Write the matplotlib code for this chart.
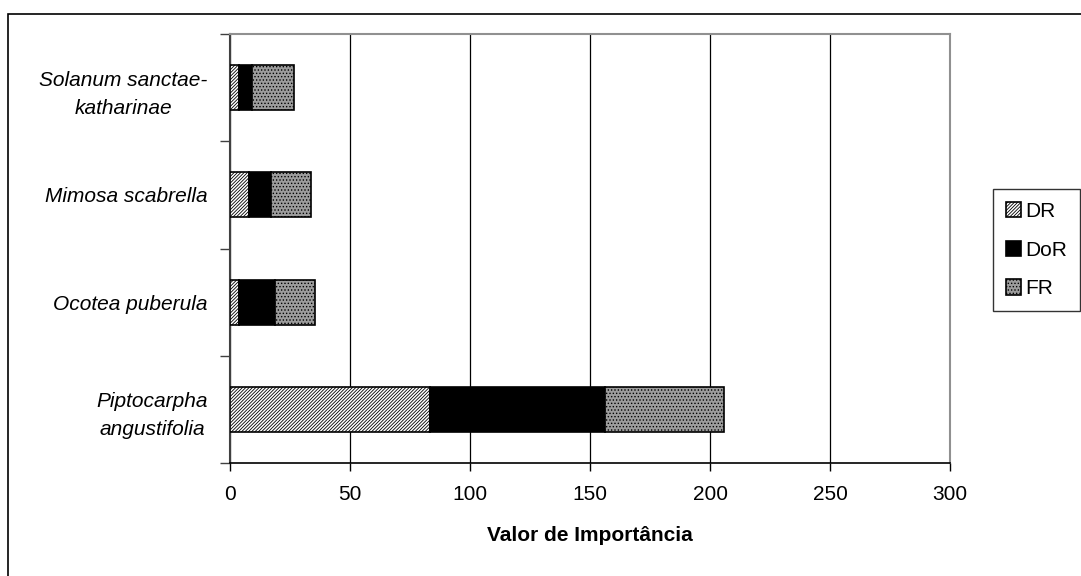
import matplotlib.pyplot as plt
from matplotlib.patches import Rectangle

plt.rcParams['font.family'] = ['Liberation Sans', 'DejaVu Sans']
plt.rcParams['hatch.linewidth'] = 0.6

species = ['Piptocarpha\nangustifolia', 'Ocotea puberula', 'Mimosa scabrella',
           'Solanum sanctae-\nkatharinae']
dr = [83.3, 3.8, 7.9, 3.8]
dor = [72.9, 15.0, 9.1, 5.5]
fr = [49.8, 16.6, 16.6, 17.4]
xticks = [0, 50, 100, 150, 200, 250, 300]

W, H = 1081, 576
fig = plt.figure(figsize=(W / 100, H / 100), dpi=100)
ax = fig.add_axes([230 / W, 1 - 463 / H, 720 / W, 429 / H])

y = range(len(species))
left_dor = [a for a in dr]
left_fr = [a + b for a, b in zip(dr, dor)]
h = 0.42
ax.barh(y, dr, height=h, color='white', edgecolor='black', hatch='//////////',
        linewidth=1.2, label='DR', zorder=3)
ax.barh(y, dor, left=left_dor, height=h, color='black', edgecolor='black',
        linewidth=1.2, label='DoR', zorder=3)
ax.barh(y, fr, left=left_fr, height=h, color='#9c9c9c', edgecolor='black',
        hatch='.....', linewidth=1.2, label='FR', zorder=3)

ax.set_xlim(0, 300)
ax.set_ylim(-0.5, 3.5)
ax.set_xticks(xticks)
ax.set_xticklabels([str(v) for v in xticks], fontsize=15)
ax.set_yticks(list(y))
ax.set_yticklabels(species, fontsize=15, style='italic', multialignment='center',
                   linespacing=1.6)
ax.set_yticks([-0.5, 0.5, 1.5, 2.5, 3.5], minor=True)
ax.tick_params(axis='y', which='major', length=0, pad=16)
ax.tick_params(axis='y', which='minor', length=7, width=1, color='#404040')
ax.tick_params(axis='x', length=6, width=1, pad=10)

ax.grid(axis='x', color='black', linewidth=0.9, zorder=0)
ax.set_axisbelow(True)
ax.spines['top'].set_color('#909090')
ax.spines['right'].set_color('#909090')
ax.spines['top'].set_linewidth(1.5)
ax.spines['right'].set_linewidth(1.5)
ax.spines['left'].set_color('#404040')
ax.spines['left'].set_linewidth(1.5)
ax.spines['bottom'].set_linewidth(1.2)

ax.set_xlabel('Valor de Importância', fontsize=15, fontweight='bold', labelpad=16)

leg = fig.legend(loc='center left', bbox_to_anchor=(993 / W, 1 - 250 / H),
                 fontsize=15, frameon=True, fancybox=False, edgecolor='black',
                 handlelength=0.75, handleheight=0.75, handletextpad=0.2,
                 labelspacing=0.95, borderpad=0.6, borderaxespad=0)
leg.get_frame().set_linewidth(1.0)

fig.patches.append(Rectangle((8 / W, -0.05), 1.1, (H - 14) / H + 0.05,
                             transform=fig.transFigure, fill=False,
                             edgecolor='black', linewidth=1.2))

fig.savefig('out.png', dpi=100)
